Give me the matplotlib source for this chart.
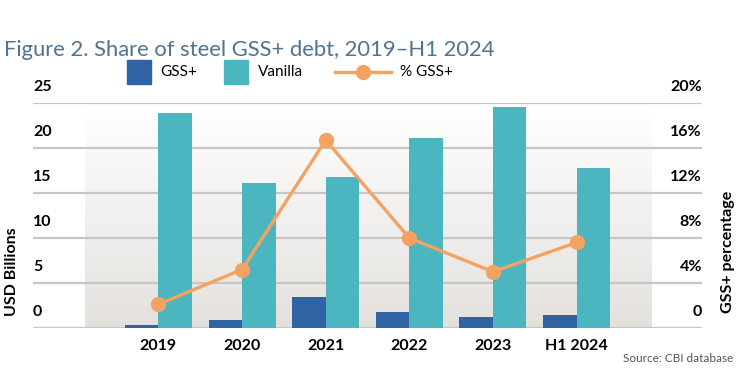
import numpy as np
import matplotlib
matplotlib.use("Agg")
from matplotlib import pyplot as plt
from matplotlib.patches import Rectangle
from matplotlib.lines import Line2D
from matplotlib.colors import LinearSegmentedColormap

years = ["2019", "2020", "2021", "2022", "2023", "H1 2024"]
gss = [0.35, 0.9, 3.45, 1.8, 1.2, 1.45]
vanilla = [23.9, 16.1, 16.8, 21.1, 24.6, 17.8]
pct_gss = [2.1, 5.2, 16.7, 8.0, 5.0, 7.6]
left_ticks = [0, 5, 10, 15, 20, 25]
right_ticks = [0, 4, 8, 12, 16, 20]
right_labels = ["0", "4%", "8%", "12%", "16%", "20%"]

blue = "#2f63a3"
teal = "#4bb5c0"
orange = "#f4a262"
fam = ["Lato", "DejaVu Sans"]

fig = plt.figure(figsize=(7.54, 3.83), dpi=100)
ax = fig.add_axes([33/754, 55/383, 669/754, 225/383])
x = np.arange(len(years))
w = 0.4

ax.set_xlim(-1.5, 6.5)
ax.set_ylim(0, 25)

# background panel, white at top fading to light gray
grad = np.linspace(0, 1, 256).reshape(-1, 1)
cm = LinearSegmentedColormap.from_list("bg", ["#e4e1dd", "#ffffff"])
ax.imshow(grad, cmap=cm, origin="lower", extent=[-0.88, 5.9, 0, 24.5],
          aspect="auto", zorder=0)

for t in left_ticks:
    ax.axhline(t, color="#c6c6c6", lw=1.6, zorder=1)

ax.bar(x - w/2, gss, w, color=blue, zorder=2)
ax.bar(x + w/2, vanilla, w, color=teal, zorder=2)

for s in ax.spines.values():
    s.set_visible(False)
ax.set_yticks([])
ax.set_xticks(x)
ax.set_xticklabels(years, fontfamily=fam, fontweight="bold", fontsize=11.5)
ax.tick_params(axis="x", length=0, pad=8)

for t in left_ticks:
    ax.text(0.0, t + 1.0, str(t), transform=ax.get_yaxis_transform(),
            ha="left", va="bottom", fontfamily=fam, fontweight="bold", fontsize=11.5)

ax2 = ax.twinx()
ax2.set_ylim(0, 20)
ax2.set_yticks([])
for s in ax2.spines.values():
    s.set_visible(False)
ax2.plot(x, pct_gss, color=orange, lw=2.4, marker="o", ms=10, zorder=3)
for t, lab in zip(right_ticks, right_labels):
    ax2.text(1.0, t + 0.8, lab, transform=ax2.get_yaxis_transform(),
             ha="right", va="bottom", fontfamily=fam, fontweight="bold", fontsize=11.5)

fig.text(12/754, 1 - 272/383, "USD Billions", rotation=90, ha="center", va="center",
         fontfamily=fam, fontweight="bold", fontsize=11.5)
fig.text(728/754, 1 - 252/383, "GSS+ percentage", rotation=90, ha="center", va="center",
         fontfamily=fam, fontweight="bold", fontsize=11.5)

fig.text(4/754, 1 - 50/383, "Figure 2. Share of steel GSS+ debt, 2019\u2013H1 2024",
         ha="left", va="center", fontfamily=fam, fontweight="normal", fontsize=15.8,
         color="#4f7390")

# legend
ly = 1 - 72/383
fig.patches.append(Rectangle((127/754, 1 - 84/383), 24/754, 24/383,
                             transform=fig.transFigure, color=blue))
fig.text(160/754, ly, "GSS+", ha="left", va="center", fontfamily=fam,
         fontweight="normal", fontsize=11)
fig.patches.append(Rectangle((224/754, 1 - 84/383), 24/754, 24/383,
                             transform=fig.transFigure, color=teal))
fig.text(258/754, ly, "Vanilla", ha="left", va="center", fontfamily=fam,
         fontweight="normal", fontsize=11)
fig.lines.append(Line2D([335/754, 391/754], [ly, ly], transform=fig.transFigure,
                        color=orange, lw=2.4))
fig.lines.append(Line2D([363/754], [ly], transform=fig.transFigure,
                        color=orange, marker="o", ms=10, ls="none"))
fig.text(400/754, ly, "% GSS+", ha="left", va="center", fontfamily=fam,
         fontweight="normal", fontsize=11)

fig.text(733/754, 1 - 358/383, "Source: CBI database", ha="right", va="center",
         fontfamily=fam, fontweight="normal", fontsize=8.5, color="#555555")

fig.savefig("out.png", dpi=100)
